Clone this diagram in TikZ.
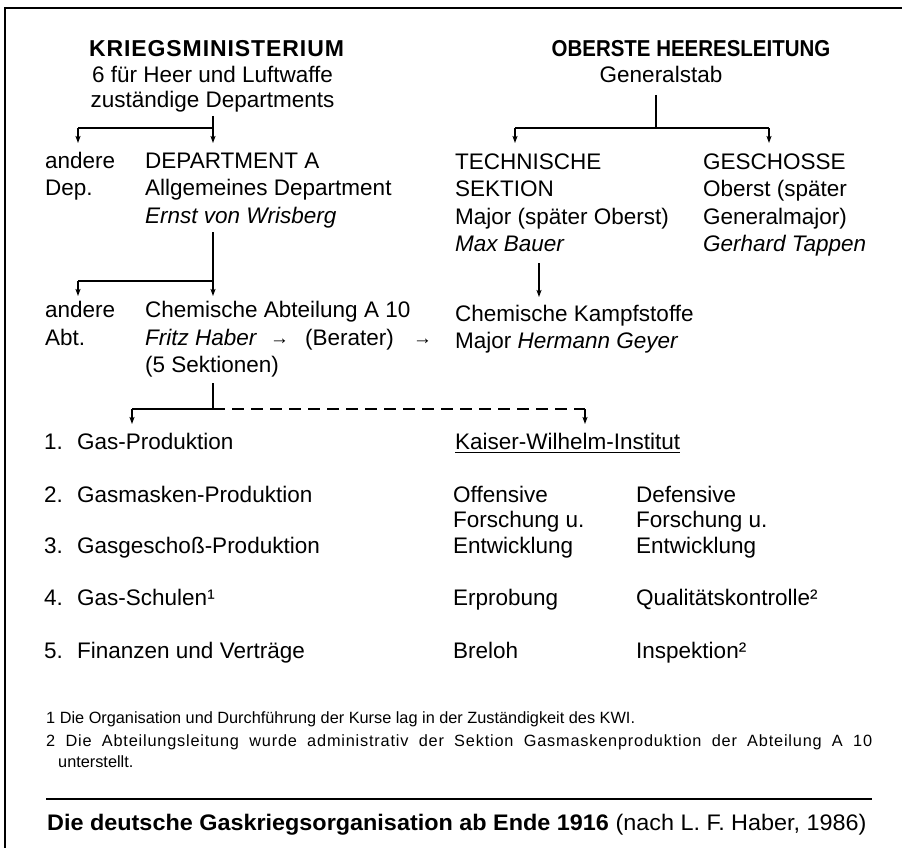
\documentclass[tikz,border=0pt]{standalone}
\usepackage{fontspec}
\setmainfont{Liberation Sans}
\usetikzlibrary{arrows.meta}
\begin{document}
\begin{tikzpicture}[x=1pt,y=-1pt,
  txt/.style={anchor=base west,inner sep=0pt,font=\fontsize{22.5}{27}\selectfont},
  ctr/.style={anchor=base,inner sep=0pt,font=\fontsize{22.5}{27}\selectfont},
  hd/.style={anchor=base,inner sep=0pt,font=\fontsize{23}{27}\selectfont\bfseries},
  fn/.style={anchor=base west,inner sep=0pt,font=\fontsize{16.3}{20}\selectfont},
  captxt/.style={anchor=base west,inner sep=0pt,font=\fontsize{22.5}{27}\selectfont},
  tarr/.style={anchor=base west,inner sep=0pt,font=\fontsize{19}{19}\selectfont},
  conn/.style={line width=1.2pt},
  arr/.style={conn,-{Stealth[length=7pt,width=5pt,inset=1.5pt]}},
  dsh/.style={conn,dash pattern=on 12pt off 7pt},
  frame/.style={line width=1.8pt}]
\useasboundingbox (0,0) rectangle (902,848);
% frame
\draw[frame] (5,848) -- (5,8) -- (902,8);

% headings
\node[hd] (km) at (216.5,57) {\addfontfeature{LetterSpace=4}KRIEGSMINISTERIUM};
\node[ctr] (km2) at (212.5,83) {6 für Heer und Luftwaffe};
\node[ctr] (km3) at (212.5,108) {zuständige Departments};
\node[hd] (ohl) at (691,57) {\scalebox{0.89}[1]{OBERSTE HEERESLEITUNG}};
\node[ctr] (gs) at (661,83) {Generalstab};

% row 1
\node[txt] (and1) at (45,168) {andere};
\node[txt] (dep1) at (45,195.5) {Dep.};
\node[txt] (depa) at (145,168) {DEPARTMENT A};
\node[txt] (depa2) at (145,195.5) {Allgemeines Department};
\node[txt] (depa3) at (145,223) {\itshape Ernst von Wrisberg};
\node[txt] (ts) at (455,169) {TECHNISCHE};
\node[txt] (ts2) at (455,196.5) {SEKTION};
\node[txt] (ts3) at (455,224) {Major (später Oberst)};
\node[txt] (ts4) at (455,251.5) {\itshape Max Bauer};
\node[txt] (ge) at (703,169) {GESCHOSSE};
\node[txt] (ge2) at (703,196.5) {Oberst (später};
\node[txt] (ge3) at (703,224) {Generalmajor)};
\node[txt] (ge4) at (703,251.5) {\itshape Gerhard Tappen};

% row 2
\node[txt] (and2) at (45,317) {andere};
\node[txt] (abt2) at (45,345) {Abt.};
\node[txt] (ca) at (145,317) {Chemische Abteilung A 10};
\node[txt] (fh) at (145,345) {\itshape Fritz Haber};
\node[tarr] (ar1) at (270,344.5) {→};
\node[txt] (ber) at (305,345) {(Berater)};
\node[tarr] (ar2) at (413,344.5) {→};
\node[txt] (sek) at (145,372) {(5 Sektionen)};
\node[txt] (ck) at (455,321) {Chemische Kampfstoffe};
\node[txt] (hg) at (455,348) {Major \textit{Hermann Geyer}};

% lower list
\node[txt] (n1) at (44,449) {1.};
\node[txt] (l1) at (77,449) {Gas-Produktion};
\node[txt] (n2) at (44,502) {2.};
\node[txt] (l2) at (77,502) {Gasmasken-Produktion};
\node[txt] (n3) at (44,553) {3.};
\node[txt] (l3) at (77,553) {Gasgeschoß-Produktion};
\node[txt] (n4) at (44,605) {4.};
\node[txt] (l4) at (77,605) {Gas-Schulen¹};
\node[txt] (n5) at (44,658) {5.};
\node[txt] (l5) at (77,658) {Finanzen und Verträge};

\node[txt] (kwi) at (455,449) {Kaiser-Wilhelm-Institut};
\draw[line width=1pt] ([yshift=-3.5pt]kwi.base west) -- ([yshift=-3.5pt]kwi.base east);

\node[txt] (m1) at (453,502) {Offensive};
\node[txt] (m2) at (453,527.5) {Forschung u.};
\node[txt] (m3) at (453,553) {Entwicklung};
\node[txt] (m4) at (453,605) {Erprobung};
\node[txt] (m5) at (453,658) {Breloh};
\node[txt] (r1) at (636,502) {Defensive};
\node[txt] (r2) at (636,527.5) {Forschung u.};
\node[txt] (r3) at (636,553) {Entwicklung};
\node[txt] (r4) at (636,605) {Qualitätskontrolle²};
\node[txt] (r5) at (636,658) {Inspektion²};

% footnotes
\node[fn] (f1) at (46,723) {1 Die Organisation und Durchführung der Kurse lag in der Zuständigkeit des KWI.};
\node[fn] (f2) at (46,746) {\makebox[826pt][s]{\addfontfeature{LetterSpace=5}2 Die Abteilungsleitung wurde administrativ der Sektion Gasmaskenproduktion der Abteilung A 10}};
\node[fn] (f3) at (58,767) {unterstellt.};

% caption
\coordinate (rl) at (46,799);
\coordinate (rr) at (872,799);
\draw[line width=1.3pt] (rl) -- (rr);
\node[captxt] (cp) at (47,830) {\scalebox{1.04}[1]{\textbf{Die deutsche Gaskriegsorganisation ab Ende 1916} (nach L. F. Haber, 1986)}};

% tree 1
\coordinate (a1t) at (213,116);
\coordinate (a1j) at (213,128);
\coordinate (a1e) at (213,143);
\coordinate (a1l) at (78,128);
\coordinate (a1le) at (78,143);
\draw[arr] (a1t) -- (a1e);
\draw[conn] (a1j) -- (a1l);
\draw[arr] (a1l) -- (a1le);

% tree 2
\coordinate (b1t) at (656,95);
\coordinate (b1j) at (656,128);
\coordinate (b1l) at (515,128);
\coordinate (b1r) at (769,128);
\coordinate (b1le) at (515,143);
\coordinate (b1re) at (769,143);
\draw[conn] (b1t) -- (b1j);
\draw[conn] (b1l) -- (b1r);
\draw[arr] (b1l) -- (b1le);
\draw[arr] (b1r) -- (b1re);

% tree 3
\coordinate (c1t) at (213,232);
\coordinate (c1j) at (213,281);
\coordinate (c1e) at (213,296);
\coordinate (c1l) at (78,281);
\coordinate (c1le) at (78,296);
\draw[arr] (c1t) -- (c1e);
\draw[conn] (c1j) -- (c1l);
\draw[arr] (c1l) -- (c1le);

% Max Bauer -> Chemische Kampfstoffe
\coordinate (d1t) at (539,263);
\coordinate (d1e) at (539,297);
\draw[arr] (d1t) -- (d1e);

% tree 4
\coordinate (e1t) at (213,383);
\coordinate (e1j) at (213,409);
\coordinate (e1l) at (132,409);
\coordinate (e1le) at (132,424);
\coordinate (e1r) at (585,409);
\coordinate (e1re) at (585,424);
\draw[conn] (e1t) -- (e1j);
\draw[conn] (e1j) -- (e1l);
\draw[arr] (e1l) -- (e1le);
\draw[dsh] (e1j) -- (e1r);
\draw[arr] (e1r) -- (e1re);
\end{tikzpicture}
\end{document}
